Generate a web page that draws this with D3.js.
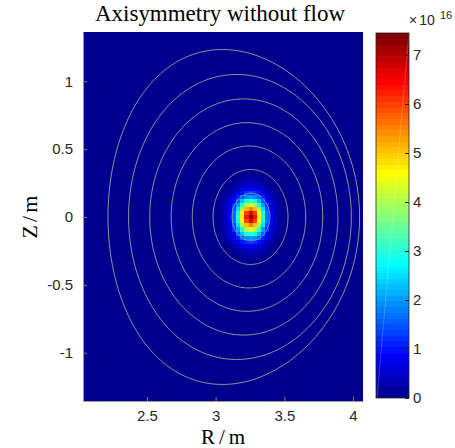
<!DOCTYPE html>
<html>
<head>
<meta charset="utf-8">
<script src="https://cdn.jsdelivr.net/npm/d3@7"></script>
<style>
  body { margin: 0; background: #fff; }
  text { font-family: "Liberation Sans", Arial, sans-serif; }
</style>
</head>
<body>
<svg id="chart" width="455" height="448"></svg>
<script>
// density on the R-Z grid, units of 1e16. the picture is symmetric so one
// quadrant is kept: quadVals[j][i] is the cell i steps out in R, j steps in Z
var cellR0 = 3.255, cellZ0 = 0, cellStep = 0.03;
var quadVals = [
  [7.45, 6.40, 4.70, 3.00, 1.70, 0.90, 0.45, 0.20, 0.08, 0.03],
  [6.67, 5.98, 4.47, 2.88, 1.65, 0.88, 0.44, 0.20, 0.08, 0.03],
  [5.58, 5.06, 3.87, 2.55, 1.49, 0.80, 0.41, 0.18, 0.07, 0.03],
  [4.32, 3.96, 3.02, 2.05, 1.24, 0.69, 0.35, 0.16, 0.07, 0.03],
  [3.06, 2.83, 2.25, 1.53, 0.92, 0.53, 0.28, 0.13, 0.06, 0.03],
  [2.08, 1.91, 1.53, 1.09, 0.70, 0.39, 0.19, 0.09, 0.05, 0.02],
  [1.34, 1.26, 1.00, 0.74, 0.46, 0.28, 0.14, 0.07, 0.04, 0.02],
  [0.82, 0.77, 0.65, 0.45, 0.31, 0.18, 0.09, 0.04, 0.03, 0.01],
  [0.48, 0.45, 0.39, 0.29, 0.18, 0.11, 0.06, 0.03, 0.02, 0.01],
  [0.28, 0.26, 0.21, 0.16, 0.11, 0.06, 0.03, 0.02, 0.01, 0.01],
  [0.15, 0.14, 0.12, 0.08, 0.06, 0.03, 0.02, 0.01, 0.01, 0.00],
  [0.07, 0.07, 0.06, 0.05, 0.03, 0.02, 0.01, 0.00, 0.00, 0.00]
];
var cMax = 7.45;

// flux surfaces (contour lines): centre R, half width, half height, triangularity
var surfR0    = [3.257, 3.254, 3.243, 3.228, 3.205, 3.177, 3.132];
var surfA     = [0.138, 0.273, 0.413, 0.552, 0.685, 0.811, 0.916];
var surfB     = [0.175, 0.350, 0.523, 0.695, 0.870, 1.050, 1.234];
var surfDelta = [0, 0, 0, 0, 0, 0.03, 0.09];

var xTicks = [2.5, 3, 3.5, 4];
var yTicks = [-1, -0.5, 0, 0.5, 1];
var cTicks = [0, 1, 2, 3, 4, 5, 6, 7];

var svg = d3.select("#chart");
var x = d3.scaleLinear().domain([2.034, 4.073]).range([83, 363]);
var y = d3.scaleLinear().domain([-1.356, 1.363]).range([401, 32]);
var cy = d3.scaleLinear().domain([0, cMax]).range([398, 33]);

// matlab jet(64), k = 0..63
function jet64(k) {
  var n = k + 1, r = 0, g = 0, b = 0;
  if (n >= 25 && n <= 40) r = (n - 24) / 16; else if (n > 40 && n <= 55) r = 1; else if (n > 55) r = (72 - n) / 16;
  if (n >= 9 && n <= 24) g = (n - 8) / 16; else if (n > 24 && n <= 39) g = 1; else if (n > 39 && n <= 55) g = (56 - n) / 16;
  if (n <= 8) b = (n + 8) / 16; else if (n <= 23) b = 1; else if (n <= 39) b = (40 - n) / 16;
  return d3.rgb(r * 255, g * 255, b * 255).toString();
}
function colorOf(v) {
  return jet64(Math.max(0, Math.min(63, Math.floor(v / cMax * 64))));
}

svg.append("defs").append("clipPath").attr("id", "plotclip")
  .append("rect").attr("x", 83).attr("y", 32).attr("width", 280).attr("height", 369);

var plot = svg.append("g").attr("clip-path", "url(#plotclip)");

// zero level fills the whole grid
plot.append("rect")
  .attr("x", x(2.034)).attr("y", y(1.363))
  .attr("width", x(4.073) - x(2.034)).attr("height", y(-1.356) - y(1.363))
  .attr("fill", colorOf(0));

var cells = [];
var nj = quadVals.length - 1, ni = quadVals[0].length - 1;
for (var j = -nj; j <= nj; j++) {
  for (var i = -ni; i <= ni; i++) {
    cells.push({ r: cellR0 + i * cellStep, z: cellZ0 + j * cellStep, v: quadVals[Math.abs(j)][Math.abs(i)] });
  }
}
plot.selectAll("rect.cell")
  .data(cells)
  .enter().append("rect")
  .attr("class", "cell")
  .attr("x", function(d) { return x(d.r - cellStep / 2); })
  .attr("y", function(d) { return y(d.z + cellStep / 2); })
  .attr("width", x(cellStep) - x(0) + 0.3)
  .attr("height", y(0) - y(cellStep) + 0.3)
  .attr("fill", function(d) { return colorOf(d.v); })
  .attr("shape-rendering", "crispEdges");

var surfaces = surfR0.map(function(r0, k) {
  return { r0: r0, a: surfA[k], b: surfB[k], d: surfDelta[k] };
});
var line = d3.line()
  .x(function(p) { return x(p[0]); })
  .y(function(p) { return y(p[1]); })
  .curve(d3.curveLinearClosed);
plot.selectAll("path.surf")
  .data(surfaces)
  .enter().append("path")
  .attr("class", "surf")
  .attr("d", function(s) {
    var pts = d3.range(0, 2 * Math.PI, Math.PI / 150).map(function(t) {
      return [s.r0 + s.a * Math.cos(t + s.d * Math.sin(t)), s.b * Math.sin(t)];
    });
    return line(pts);
  })
  .attr("fill", "none")
  .attr("stroke", "#aeab98")
  .attr("stroke-width", 0.85);

// axes
var fmt = function(d) { return String(d); };
var gx = svg.append("g").attr("transform", "translate(0,401)")
  .call(d3.axisBottom(x).tickValues(xTicks).tickFormat(fmt).tickSizeInner(-4).tickSizeOuter(0).tickPadding(9));
var gy = svg.append("g").attr("transform", "translate(83,0)")
  .call(d3.axisLeft(y).tickValues(yTicks).tickFormat(fmt).tickSizeInner(-4).tickSizeOuter(0).tickPadding(10));
[gx, gy].forEach(function(g) {
  g.select(".domain").attr("stroke", "#9a9a9a");
  g.selectAll(".tick line").attr("stroke", "#7a7a9a");
  g.selectAll(".tick text").attr("fill", "#262626").style("font-size", "15px");
});

// colorbar
var bands = d3.range(64);
svg.selectAll("rect.band")
  .data(bands)
  .enter().append("rect")
  .attr("class", "band")
  .attr("x", 376).attr("width", 33)
  .attr("y", function(k) { return cy((k + 1) * cMax / 64); })
  .attr("height", function(k) { return cy(k * cMax / 64) - cy((k + 1) * cMax / 64) + 0.4; })
  .attr("fill", function(k) { return jet64(k); })
  .attr("shape-rendering", "crispEdges");
svg.append("line")
  .attr("x1", 377).attr("y1", 398).attr("x2", 409).attr("y2", 33)
  .attr("stroke", "#fff").attr("stroke-opacity", 0.3).attr("stroke-width", 0.7);
svg.append("rect")
  .attr("x", 376).attr("y", 33).attr("width", 33).attr("height", 365)
  .attr("fill", "none").attr("stroke", "#262626").attr("stroke-width", 0.8);
var gc = svg.append("g").attr("transform", "translate(409,0)")
  .call(d3.axisRight(cy).tickValues(cTicks).tickFormat(fmt).tickSizeInner(-4).tickSizeOuter(0).tickPadding(4));
gc.select(".domain").remove();
gc.selectAll(".tick line").attr("stroke", "#262626");
gc.selectAll(".tick text").attr("fill", "#262626").style("font-size", "15px");

var ex = svg.append("text").attr("x", 409).attr("y", 25).attr("fill", "#262626").style("font-size", "14px");
ex.append("tspan").text("\u00d7");
ex.append("tspan").attr("dx", 2).text("10");
svg.append("text").attr("x", 440).attr("y", 19.3).attr("fill", "#262626").style("font-size", "11px").text("16");

// titles
svg.append("text")
  .attr("x", 220).attr("y", 21).attr("text-anchor", "middle")
  .attr("textLength", 250).attr("lengthAdjust", "spacing")
  .style("font-family", "'Liberation Serif', 'DejaVu Serif', serif").style("font-size", "23px")
  .attr("fill", "#000").text("Axisymmetry without flow");
svg.append("text")
  .attr("x", 223).attr("y", 443.5).attr("text-anchor", "middle")
  .attr("textLength", 44).attr("lengthAdjust", "spacing")
  .style("font-family", "'Liberation Serif', 'DejaVu Serif', serif").style("font-size", "21px")
  .attr("fill", "#000").text("R/m");
svg.append("text")
  .attr("transform", "translate(37,217) rotate(-90)").attr("text-anchor", "middle")
  .attr("textLength", 43).attr("lengthAdjust", "spacing")
  .style("font-family", "'Liberation Serif', 'DejaVu Serif', serif").style("font-size", "22px")
  .attr("fill", "#000").text("Z/m");
</script>
</body>
</html>
